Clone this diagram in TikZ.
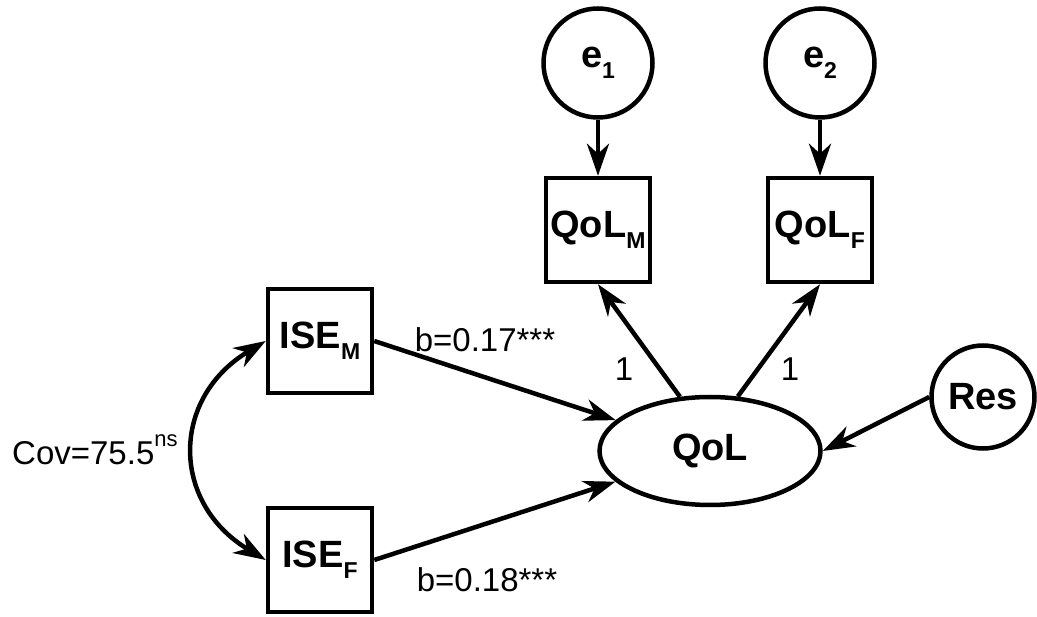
\documentclass[tikz,border=0pt]{standalone}
\usepackage{fontspec}
\setmainfont{Liberation Sans}
\usetikzlibrary{arrows.meta,shapes.geometric}
\newcommand{\mysub}[1]{\raisebox{-0.28em}{\fontsize{23}{23}\selectfont #1}}
\newcommand{\mysup}[1]{\raisebox{0.55em}{\fontsize{22}{22}\selectfont #1}}
\begin{document}
\begin{tikzpicture}[x=1pt,y=-1pt,
  boxnode/.style={draw, line width=4.5pt, minimum size=104pt, inner sep=0pt,
    font=\bfseries\fontsize{38}{42}\selectfont},
  circnode/.style={draw, circle, line width=4.5pt, minimum size=109pt, inner sep=0pt,
    font=\bfseries\fontsize{38}{42}\selectfont},
  ellnode/.style={draw, ellipse, line width=4.5pt, minimum width=221pt, minimum height=108pt,
    inner sep=0pt, font=\bfseries\fontsize{38}{42}\selectfont},
  lbl/.style={font=\fontsize{33}{37}\selectfont, inner sep=0pt},
  arr/.style={line width=4.5pt, -{Stealth[length=32pt,width=22pt,inset=10pt]}},
  darr/.style={line width=4.5pt, {Stealth[length=32pt,width=22pt,inset=10pt]}-{Stealth[length=32pt,width=22pt,inset=10pt]}}
]
\useasboundingbox (0,0) rectangle (1037,617);
\node[circnode] (e1) at (598,63) {e\mysub{1}};
\node[circnode] (e2) at (820,63) {e\mysub{2}};
\node[boxnode] (qm) at (598,230) {QoL\mysub{M}};
\node[boxnode] (qf) at (820,230) {QoL\mysub{F}};
\node[boxnode] (im) at (320,341) {ISE\mysub{M}};
\node[boxnode] (if) at (320,560) {ISE\mysub{F}};
\node[ellnode] (q) at (710,451) {QoL};
\node[circnode, minimum size=103pt] (res) at (983,397) {Res};

\draw[arr] (e1) -- (qm);
\draw[arr] (e2) -- (qf);
\draw[arr] (q.119) -- (qm.south);
\draw[arr] (q.63) -- (qf.south);
\draw[arr] (im.east) -- (q);
\draw[arr] (if.east) -- (q);
\draw[arr] (res.west) -- (q.east);
\draw[darr] (im.west) to[out=211,in=149,looseness=1.3] (if.west);

\node[lbl] (l1) at (624,369) {1};
\node[lbl] (l2) at (790,369) {1};
\node[lbl] (b1) at (485,340) {b=0.17***};
\node[lbl] (b2) at (487,580) {b=0.18***};
\node[lbl, anchor=west] (cov) at (12,450) {Cov=75.5\mysup{ns}};
\end{tikzpicture}
\end{document}
